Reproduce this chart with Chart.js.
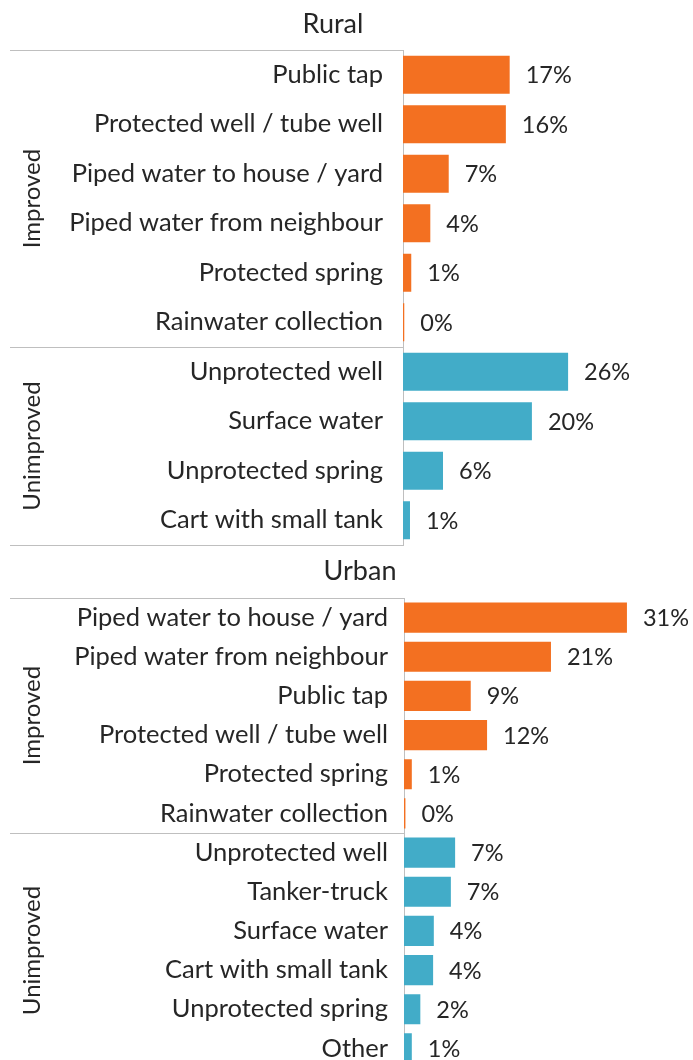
<!DOCTYPE html>
<html><head><meta charset="utf-8">
<script src="https://cdn.jsdelivr.net/npm/chart.js@4.4.1/dist/chart.umd.min.js"></script>
<style>
html,body{margin:0;padding:0;background:#fff;overflow:hidden;width:693px;height:1060px;}
canvas{position:absolute;left:0;}
#c1{top:0;}
#c2{top:550px;}
</style></head><body>
<canvas id="c1" width="693" height="560"></canvas>
<canvas id="c2" width="693" height="520"></canvas>
<script>
// ---- data ----
const ruralTitle = 'Rural';
const ruralCategories = ['Public tap','Protected well / tube well','Piped water to house / yard','Piped water from neighbour','Protected spring','Rainwater collection','Unprotected well','Surface water','Unprotected spring','Cart with small tank'];
const ruralValues = [16.8, 16.2, 7.2, 4.3, 1.3, 0.2, 26.0, 20.3, 6.3, 1.1];
const ruralGroupNames = ['Improved','Unimproved'];
const ruralGroupSizes = [6, 4];

const urbanTitle = 'Urban';
const urbanCategories = ['Piped water to house / yard','Piped water from neighbour','Public tap','Protected well / tube well','Protected spring','Rainwater collection','Unprotected well','Tanker-truck','Surface water','Cart with small tank','Unprotected spring','Other'];
const urbanValues = [31.4, 20.7, 9.4, 11.7, 1.1, 0.2, 7.2, 6.6, 4.2, 4.1, 2.3, 1.1];
const urbanGroupNames = ['Improved','Unimproved'];
const urbanGroupSizes = [6, 6];

const groupColors = {'Improved':'#F37021','Unimproved':'#42ACC8'};
const FONT = 'Lato';
const TXT = '#262626';

function colorsFor(names, sizes){
  const out=[];
  names.forEach((n,i)=>{for(let k=0;k<sizes[i];k++) out.push(groupColors[n]);});
  return out;
}

const groupPlugin = {
  id:'groupAxis',
  afterDraw(chart, args, opts){
    const ctx=chart.ctx, y=chart.scales.y, ca=chart.chartArea;
    ctx.save();
    ctx.strokeStyle='#BFBFBF'; ctx.lineWidth=1;
    let idx=0; const bounds=[y.getPixelForValue(-0.5)];
    opts.sizes.forEach(s=>{idx+=s; bounds.push(y.getPixelForValue(idx-0.5));});
    bounds.forEach(b=>{
      const yy=Math.round(b)+0.5;
      ctx.beginPath(); ctx.moveTo(opts.lineLeft, yy); ctx.lineTo(ca.left, yy); ctx.stroke();
    });
    ctx.fillStyle=TXT;
    ctx.font=opts.groupFont+'px '+FONT;
    ctx.textAlign='center'; ctx.textBaseline='alphabetic';
    opts.names.forEach((n,i)=>{
      const cy=(bounds[i]+bounds[i+1])/2;
      ctx.save(); ctx.translate(opts.groupX, cy); ctx.rotate(-Math.PI/2);
      ctx.fillText(n,0,0); ctx.restore();
    });
    const meta=chart.getDatasetMeta(0);
    const data=chart.data.datasets[0].data;
    ctx.font=opts.labelFont+'px '+FONT;
    ctx.textAlign='left'; ctx.textBaseline='middle';
    meta.data.forEach((el,i)=>{
      ctx.fillText(Math.round(data[i])+'%', el.x+opts.labelGap, el.y+1);
    });
    ctx.font=opts.titleFont+'px '+FONT;
    ctx.textAlign='center'; ctx.textBaseline='alphabetic';
    ctx.fillText(opts.title, opts.titleX, opts.titleY);
    ctx.restore();
  }
};

function makeChart(id, cats, vals, gnames, gsizes, o){
  return new Chart(document.getElementById(id), {
    type:'bar',
    data:{labels:cats, datasets:[{data:vals, backgroundColor:colorsFor(gnames,gsizes), borderWidth:0,
      categoryPercentage:1, barPercentage:0.77}]},
    options:{
      indexAxis:'y', responsive:false, animation:false, devicePixelRatio:1,
      layout:{padding:{top:o.padTop,bottom:o.padBottom,left:0,right:o.padRight}},
      plugins:{legend:{display:false}, tooltip:{enabled:false}, title:{display:false},
        groupAxis:{sizes:gsizes, names:gnames, lineLeft:10, groupX:40, groupFont:24,
          labelFont:23.5, titleFont:27,
          labelGap:16, title:o.title, titleX:o.titleX, titleY:o.titleY}},
      scales:{
        x:{display:false, min:0, max:o.max},
        y:{grid:{display:false, drawTicks:false}, border:{display:true,color:'#BFBFBF',width:1},
          ticks:{autoSkip:false, padding:o.tickPad, color:TXT, font:{family:FONT,size:25.5}},
          afterFit(s){s.width=o.axisX; s.paddingTop=0; s.paddingBottom=0;}}
      }
    },
    plugins:[groupPlugin]
  });
}

makeChart('c1', ruralCategories, ruralValues, ruralGroupNames, ruralGroupSizes,
  {padTop:50, padBottom:15, padRight:693-(403+6.35*30), max:30, axisX:403, tickPad:20,
   title:ruralTitle, titleX:333, titleY:33});
makeChart('c2', urbanCategories, urbanValues, urbanGroupNames, urbanGroupSizes,
  {padTop:48, padBottom:2, padRight:693-(404+7.1*35), max:35, axisX:404, tickPad:16,
   title:urbanTitle, titleX:360, titleY:30});
</script>
</body></html>
